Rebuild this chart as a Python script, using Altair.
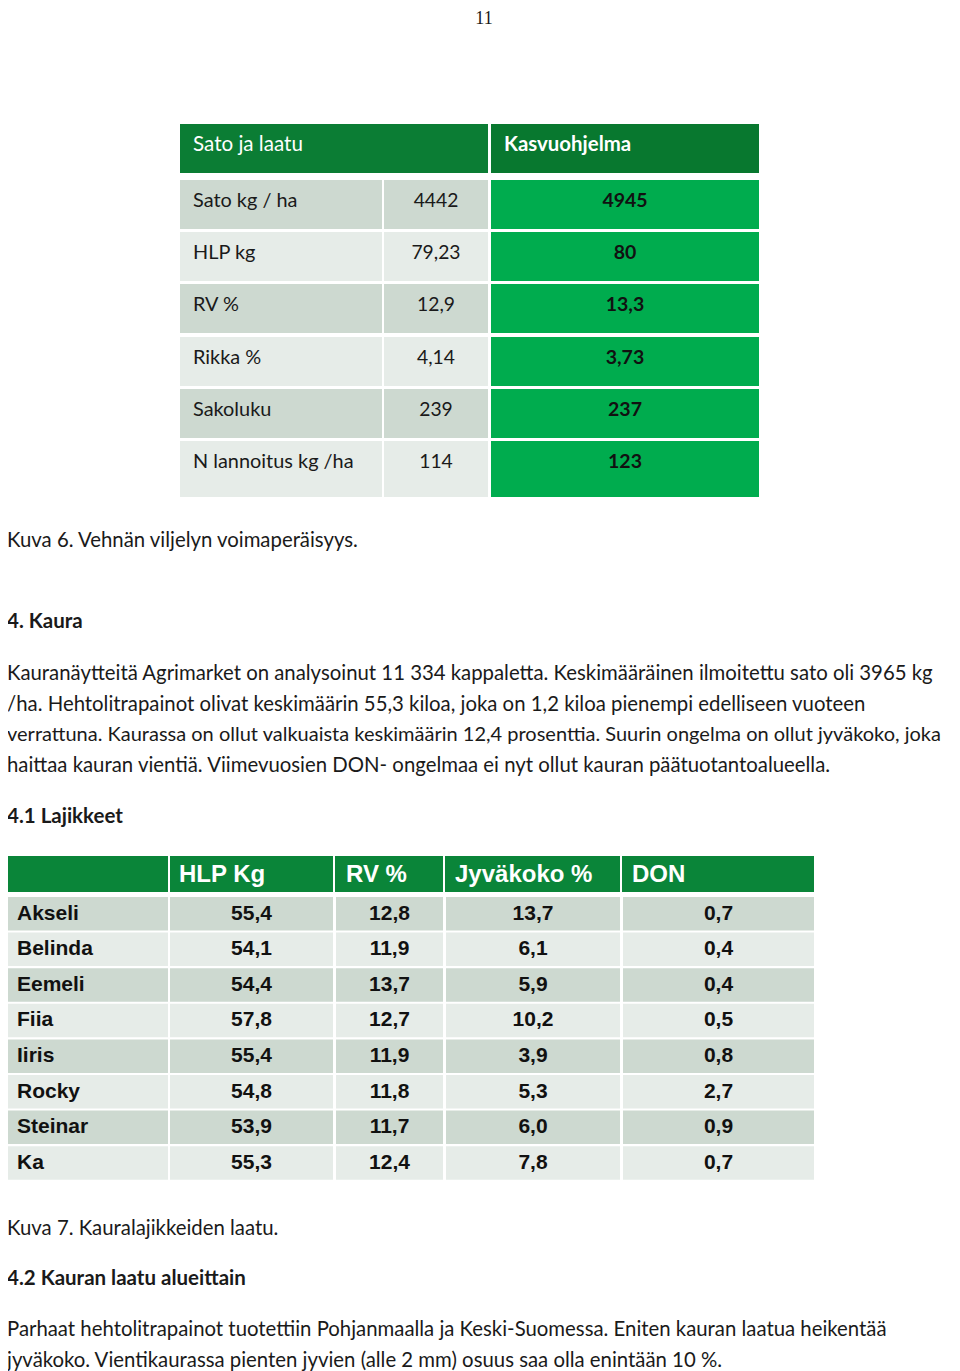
import altair as alt
import pandas as pd

# ---------------- content ----------------
page_number = "11"

t1_header = ["Sato ja laatu", "Kasvuohjelma"]
t1_labels = ["Sato kg / ha", "HLP kg", "RV %", "Rikka %", "Sakoluku", "N lannoitus kg /ha"]
t1_avg = ["4442", "79,23", "12,9", "4,14", "239", "114"]
t1_prog = ["4945", "80", "13,3", "3,73", "237", "123"]

caption6 = "Kuva 6. Vehnän viljelyn voimaperäisyys."
heading4 = "4. Kaura"
para1 = [
    "Kauranäytteitä Agrimarket on analysoinut 11 334 kappaletta. Keskimääräinen ilmoitettu sato oli 3965 kg",
    "/ha. Hehtolitrapainot olivat keskimäärin 55,3 kiloa, joka on 1,2 kiloa pienempi edelliseen vuoteen",
    "verrattuna. Kaurassa on ollut valkuaista keskimäärin 12,4 prosenttia. Suurin ongelma on ollut jyväkoko, joka",
    "haittaa kauran vientiä. Viimevuosien DON- ongelmaa ei nyt ollut kauran päätuotantoalueella.",
]
heading41 = "4.1 Lajikkeet"

t2_header = ["HLP Kg", "RV %", "Jyväkoko %", "DON"]
t2_names = ["Akseli", "Belinda", "Eemeli", "Fiia", "Iiris", "Rocky", "Steinar", "Ka"]
t2_hlp = [55.4, 54.1, 54.4, 57.8, 55.4, 54.8, 53.9, 55.3]
t2_rv = [12.8, 11.9, 13.7, 12.7, 11.9, 11.8, 11.7, 12.4]
t2_jyva = [13.7, 6.1, 5.9, 10.2, 3.9, 5.3, 6.0, 7.8]
t2_don = [0.7, 0.4, 0.4, 0.5, 0.8, 2.7, 0.9, 0.7]

caption7 = "Kuva 7. Kauralajikkeiden laatu."
heading42 = "4.2 Kauran laatu alueittain"
para2 = [
    "Parhaat hehtolitrapainot tuotettiin Pohjanmaalla ja Keski-Suomessa. Eniten kauran laatua heikentää",
    "jyväkoko. Vientikaurassa pienten jyvien (alle 2 mm) osuus saa olla enintään 10 %.",
]

# ---------------- layout / style ----------------
BODY = "Lato"
ARIAL = "Liberation Sans"
INK = "#1a1a1a"
DARK_G = "#0b7d34"
DARK_G2 = "#08782f"
HDR2 = "#0a8539"
BRIGHT = "#00ac4e"
GRAY_D = "#cdd9d0"
GRAY_L = "#e6ece8"

W, H = 944, 1363
X = alt.Scale(domain=[8, 8 + W], nice=False, zero=False)
Y = alt.Scale(domain=[8, 8 + H], nice=False, zero=False, reverse=True)


def fmt(v):
    return f"{v:.1f}".replace(".", ",")


def rects(df):
    return alt.Chart(df).mark_rect().encode(
        x=alt.X("x:Q", scale=X, axis=None),
        x2="x2:Q",
        y=alt.Y("y:Q", scale=Y, axis=None),
        y2="y2:Q",
        color=alt.Color("c:N", scale=None),
    )


def txt(df, size, weight="normal", align="left", font=BODY, color=INK):
    return alt.Chart(df).mark_text(
        align=align, baseline="middle", fontSize=size, fontWeight=weight,
        font=font, color=color,
    ).encode(
        x=alt.X("x:Q", scale=X, axis=None),
        y=alt.Y("y:Q", scale=Y, axis=None),
        text="t:N",
    )


layers = []

# ---- Table 1 ----
t1_cols = [(180, 382), (384, 488), (491, 759)]
t1_tops = [180, 232, 284, 337, 389, 441]
t1_bots = [229, 281, 333, 386, 438, 497]
r = [dict(x=180, x2=488, y=124, y2=173, c=DARK_G), dict(x=491, x2=759, y=124, y2=173, c=DARK_G2)]
for i in range(len(t1_labels)):
    g = GRAY_D if i % 2 == 0 else GRAY_L
    for j, (a, b) in enumerate(t1_cols):
        r.append(dict(x=a, x2=b, y=t1_tops[i], y2=t1_bots[i], c=BRIGHT if j == 2 else g))
layers.append(rects(pd.DataFrame(r)))
layers.append(txt(pd.DataFrame([dict(x=193, y=145, t=t1_header[0])]), 20.6, color="white"))
layers.append(txt(pd.DataFrame([dict(x=504, y=145, t=t1_header[1])]), 20.4, "bold", color="white"))
layers.append(txt(pd.DataFrame([dict(x=193, y=t1_tops[i] + 21, t=s) for i, s in enumerate(t1_labels)]), 19.9))
layers.append(txt(pd.DataFrame([dict(x=436, y=t1_tops[i] + 21, t=s) for i, s in enumerate(t1_avg)]), 19.3, align="center"))
layers.append(txt(pd.DataFrame([dict(x=625, y=t1_tops[i] + 21, t=s) for i, s in enumerate(t1_prog)]), 19.5, "bold", align="center", color="#111"))

# ---- Table 2 ----
t2_cols = [(7, 168), (170, 333), (336, 443), (446, 620), (623, 814)]
r2 = [dict(x=7, x2=814, y=856, y2=892, c=HDR2)]
for (a, b) in t2_cols[:-1]:
    r2.append(dict(x=b, x2=b + 2, y=856, y2=892, c="white"))
pitch = 35.6
for i in range(len(t2_names)):
    top = 897 + i * pitch
    g = GRAY_D if i % 2 == 0 else GRAY_L
    for (a, b) in t2_cols:
        r2.append(dict(x=a, x2=b, y=top, y2=top + 33.5, c=g))
layers.append(rects(pd.DataFrame(r2)))
hdr_x = [179, 346, 455, 632]
layers.append(txt(pd.DataFrame([dict(x=hdr_x[k], y=875, t=s) for k, s in enumerate(t2_header)]), 24, "bold", font=ARIAL, color="white"))
cy = [897 + i * pitch + 16.5 for i in range(len(t2_names))]
layers.append(txt(pd.DataFrame([dict(x=17, y=cy[i], t=s) for i, s in enumerate(t2_names)]), 21, "bold", font=ARIAL, color="#111"))
vals = []
for k, col in enumerate([t2_hlp, t2_rv, t2_jyva, t2_don]):
    a, b = t2_cols[k + 1]
    for i, v in enumerate(col):
        vals.append(dict(x=(a + b) / 2, y=cy[i], t=fmt(v)))
layers.append(txt(pd.DataFrame(vals), 21, "bold", align="center", font=ARIAL, color="#111"))

# ---- page text ----
layers.append(txt(pd.DataFrame([dict(x=484, y=19, t=page_number)]), 18, align="center", font="Liberation Serif"))
plain = [dict(x=7, y=541, t=caption6)]
plain += [dict(x=7, y=674 + i * 30.5, t=s) for i, s in enumerate(para1) if i != 2]
plain += [dict(x=7, y=1229, t=caption7)]
plain += [dict(x=7, y=1330 + i * 30.5, t=s) for i, s in enumerate(para2)]
layers.append(txt(pd.DataFrame(plain), 20.35))
layers.append(txt(pd.DataFrame([dict(x=7, y=674 + 2 * 30.5, t=para1[2])]), 20.0))
heads = [dict(x=7, y=622, t=heading4), dict(x=7, y=817, t=heading41), dict(x=7, y=1279, t=heading42)]
layers.append(txt(pd.DataFrame(heads), 20.5, "bold"))

chart = alt.layer(*layers).properties(
    width=W, height=H, padding=0, autosize=alt.AutoSizeParams(type="none"),
).configure_view(stroke=None)

chart.save("out.html", embed_options={"renderer": "svg", "actions": False})
